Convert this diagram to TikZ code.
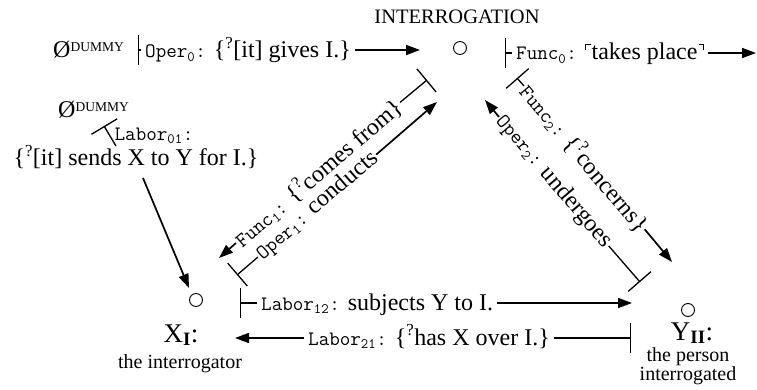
\documentclass[tikz,border=0pt]{standalone}
\usepackage{fontspec}
\setmainfont{Liberation Serif}
\usetikzlibrary{arrows.meta}
\newcommand\tsub[2]{{\ttfamily\fontsize{20.5}{22}\selectfont #1\textsubscript{#2}:}}
\newcommand\sq{\textsuperscript{?}}
\newcommand\qL{\raisebox{0.42em}{\rule{0.05em}{0.26em}}\kern-0.05em\raisebox{0.63em}{\rule{0.24em}{0.05em}}\kern0.04em}
\newcommand\qR{\kern0.04em\raisebox{0.63em}{\rule{0.24em}{0.05em}}\kern-0.05em\raisebox{0.42em}{\rule{0.05em}{0.26em}}}
\newcommand\dum{\raisebox{6.5pt}{\fontsize{13.5}{13.5}\selectfont DUMMY}}
\begin{document}
\begin{tikzpicture}[x=1pt,y=-1pt,
  lbl/.style={font=\fontsize{24}{26}\selectfont, inner sep=4pt},
  circ/.style={circle, draw, line width=0.9pt, minimum size=13pt, inner sep=0pt},
  arr/.style={line width=1.7pt, -{Triangle[length=14pt,width=10pt]}},
  barl/.style={line width=1.3pt, {Bar[width=30pt]}-}]
\useasboundingbox (0,0) rectangle (757,390);
% points
\node[circ] (I) at (460,48) {};
\node[circ] (X) at (196,300) {};
\node[circ] (Y) at (688,310) {};
\node[font=\fontsize{20.5}{22}\selectfont] (It) at (457,17) {INTERROGATION};
% top left row
\node[lbl, anchor=base west] (d1) at (49,58) {Ø\dum};
\coordinate (o0bar) at (138,50);
\coordinate (o0tip) at (420,50);
\node[lbl, anchor=base west] (o0) at (141,58) {\tsub{Oper}{0} \{\sq[it] gives I.\}};
\draw[barl] (o0bar) -- (o0bar -| o0.west);
\draw[arr] (o0bar -| o0.east) -- (o0tip);
% top right row
\coordinate (f0bar) at (505,53);
\coordinate (f0tip) at (756,53);
\node[lbl, anchor=base west] (f0) at (512,60) {\tsub{Func}{0} \qL takes place\qR};
\draw[barl] (f0bar) -- (f0bar -| f0.west);
\draw[arr] (f0bar -| f0.east) -- (f0tip);
% Labor01
\node[lbl, anchor=base west] (d2) at (54,118) {Ø\dum};
\node[lbl, align=center, anchor=north, inner sep=0pt, font=\fontsize{24}{20}\selectfont] (l01) at (136,128) {\hspace*{36pt}\tsub{Labor}{01}\\ \{\sq[it] sends X to Y for I.\}};
\coordinate (l01bar) at (104,126);
\coordinate (l01a) at (116,146);
\coordinate (l01b) at (143,178);
\coordinate (l01tip) at (189,288);
\draw[barl] (l01bar) -- (l01a);
\draw[arr] (l01b) -- (l01tip);
% X / Y labels
\node[font=\fontsize{27}{27}\selectfont, anchor=base] (xl) at (181,342) {X\textsubscript{\textbf{I}}:};
\node[font=\fontsize{20}{20}\selectfont, anchor=base] (xd) at (180,368) {the interrogator};
\node[font=\fontsize{27}{27}\selectfont, anchor=base] (yl) at (692,340) {Y\textsubscript{\textbf{II}}:};
\node[font=\fontsize{20}{19}\selectfont, align=center, anchor=north, inner sep=0pt] (yd) at (688,347) {the person\\interrogated};
% bottom
\coordinate (l12bar) at (240,303);
\coordinate (l12tip) at (632,303);
\node[lbl, anchor=base west] (l12) at (257,310) {\tsub{Labor}{12} subjects Y to I.};
\draw[barl] (l12bar) -- (l12bar -| l12.west);
\draw[arr] (l12bar -| l12.east) -- (l12tip);
\coordinate (l21tip) at (235,338);
\coordinate (l21bar) at (631,338);
\node[lbl, anchor=base west] (l21) at (304,345) {\tsub{Labor}{21} \{\sq has X over I.\}};
\draw[arr] (l21tip -| l21.west) -- (l21tip);
\draw[barl] (l21bar) -- (l21bar -| l21.east);
% left diagonal
\coordinate (f1tip) at (219,258);
\coordinate (f1bar) at (427,80);
\node[lbl, rotate=40.6, anchor=west, inner sep=1pt] (f1) at (236,243) {\tsub{Func}{1} \{\sq comes from\}};
\draw[arr] (f1.west) -- (f1tip);
\draw[barl] (f1bar) -- (f1.east);
\coordinate (o1bar) at (237,275);
\coordinate (o1tip) at (437,102);
\node[lbl, rotate=40.9, anchor=west, inner sep=1pt] (o1) at (258,257) {\tsub{Oper}{1} conducts};
\draw[barl] (o1bar) -- (o1.west);
\draw[arr] (o1.east) -- (o1tip);
% right diagonal
\coordinate (f2bar) at (517,78);
\coordinate (f2tip) at (672,262);
\node[lbl, rotate=-49.9, anchor=west, inner sep=1pt] (f2) at (524,86) {\tsub{Func}{2} \{\sq concerns\}};
\draw[barl] (f2bar) -- (f2.west);
\draw[arr] (f2.east) -- (f2tip);
\coordinate (o2tip) at (485,100);
\coordinate (o2bar) at (640,282);
\node[lbl, rotate=-49.6, anchor=west, inner sep=1pt] (o2) at (499,117) {\tsub{Oper}{2} undergoes};
\draw[arr] (o2.west) -- (o2tip);
\draw[barl] (o2bar) -- (o2.east);
\end{tikzpicture}
\end{document}
